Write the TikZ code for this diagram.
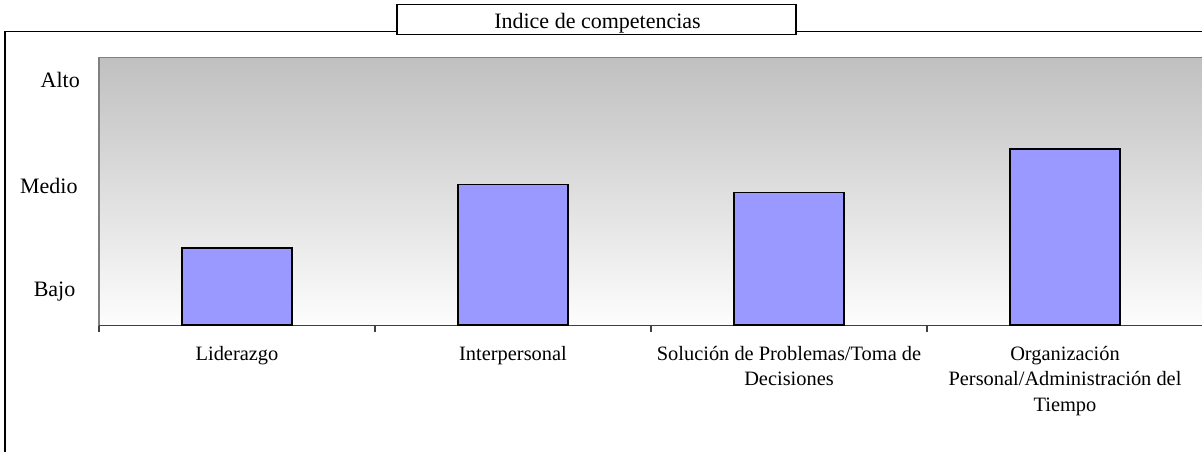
\documentclass[tikz,border=0pt]{standalone}
\usepackage{fontspec}
\setmainfont{Liberation Serif}
\definecolor{barfill}{RGB}{153,153,255}
\definecolor{bgtop}{RGB}{192,192,192}
\definecolor{bgbot}{RGB}{253,253,253}
\definecolor{areaedge}{RGB}{128,128,128}
\definecolor{axisgray}{RGB}{64,64,64}
\tikzset{
  barbox/.style={draw=black, line width=1.6pt, fill=barfill, minimum width=110pt, inner sep=0pt, anchor=south},
  catlabel/.style={align=center, anchor=base, inner sep=0pt, font=\fontsize{20.4}{25.3}\selectfont},
  ylabel/.style={anchor=base east, inner sep=0pt, font=\fontsize{22}{26}\selectfont},
  titlebox/.style={draw=black, line width=1.2pt, fill=white, minimum width=399pt, minimum height=30.2pt, inner sep=0pt},
  tickline/.style={draw=axisgray, line width=1.2pt}
}
\begin{document}
\begin{tikzpicture}[x=1pt,y=-1pt]
\useasboundingbox (0,0) rectangle (1202,451);
\fill[white] (0,0) rectangle (1202,451);
% outer frame
\draw[black, line width=1.3pt] (5,31.3) rectangle (1215,470);
% plot area
\shade[top color=bgtop, bottom color=bgbot] (99,57.5) rectangle (1210,325.5);
\draw[areaedge, line width=1.6pt] (99,325.5) -- (99,57.5) -- (1210,57.5);
% axis
\coordinate (axL) at (99,325.5);
\coordinate (axR) at (1210,325.5);
\draw[axisgray, line width=1.6pt] (axL) -- (axR);
\foreach \t/\x in {t0/99,t1/375,t2/651,t3/927}{
  \coordinate (\t) at (\x,325.5);
  \draw[tickline] (\t) -- ++(0,6.5);
}
% bars
\node[barbox, minimum height=76.5pt] (b1) at (237,325.5) {};
\node[barbox, minimum height=140.2pt] (b2) at (513,325.5) {};
\node[barbox, minimum height=132.3pt] (b3) at (789,325.5) {};
\node[barbox, minimum height=175.8pt] (b4) at (1065,325.5) {};
% y labels
\node[ylabel] (alto) at (80,87.3) {Alto};
\node[ylabel] (medio) at (77.7,193.3) {Medio};
\node[ylabel] (bajo) at (75.5,296) {Bajo};
% category labels (base anchor = last line baseline)
\node[catlabel] (c1) at (237,360.5) {Liderazgo};
\node[catlabel] (c2) at (513,360.5) {Interpersonal};
\node[catlabel] (c3) at (789,385.8) {Solución de Problemas/Toma de\\Decisiones};
\node[catlabel] (c4) at (1065,411.1) {Organización\\Personal/Administración del\\Tiempo};
% title
\node[titlebox] (title) at (596.5,19.4) {};
\node[anchor=base, inner sep=0pt, font=\fontsize{22}{26}\selectfont] (titletext) at (597.5,28.3) {Indice de competencias};
\end{tikzpicture}
\end{document}
